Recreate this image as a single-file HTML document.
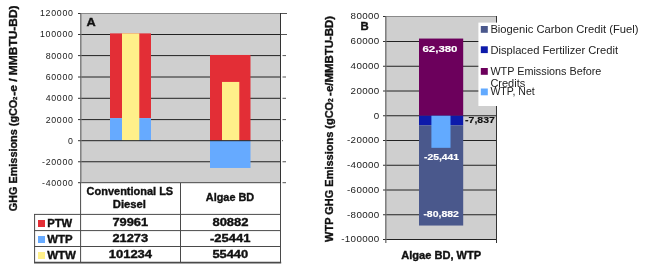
<!DOCTYPE html>
<html><head><meta charset="utf-8">
<style>
html,body{margin:0;padding:0;background:#fff;width:648px;height:273px;overflow:hidden}
svg{display:block;will-change:transform}
text{font-family:"Liberation Sans",sans-serif}
.yl{font-size:8.8px;fill:#1a1a1a;letter-spacing:0.7px}
.yb{font-size:9.8px;fill:#1a1a1a;letter-spacing:0.35px}
.tb{font-size:10px;font-weight:bold;fill:#111;stroke:#111;stroke-width:0.35px}
.lg{font-size:10px;fill:#222}
.dl{font-size:8.6px;font-weight:bold;stroke-width:0.15px}
</style></head><body>
<svg width="648" height="273" viewBox="0 0 648 273">
<rect x="80" y="13.5" width="200" height="169" fill="#cfcfcf"/>
<line x1="80" y1="13.5" x2="280" y2="13.5" stroke="#8a8a8a" stroke-width="1"/>
<g stroke="#222" stroke-width="1">
<line x1="80" y1="34.5" x2="280" y2="34.5"/>
<line x1="80" y1="55.6" x2="280" y2="55.6"/>
<line x1="80" y1="77.0" x2="280" y2="77.0"/>
<line x1="80" y1="98.3" x2="280" y2="98.3"/>
<line x1="80" y1="119.6" x2="280" y2="119.6"/>
<line x1="80" y1="161.75" x2="280" y2="161.75"/>
</g>
<rect x="110" y="33.39" width="41" height="84.76" fill="#e32e36"/>
<rect x="110" y="118.15" width="41" height="22.55" fill="#66aaff"/>
<rect x="122" y="33.39" width="17.3" height="107.31" fill="#fff08a"/>
<rect x="210" y="54.97" width="40.5" height="85.73" fill="#e32e36"/>
<rect x="222" y="81.93" width="17.3" height="58.77" fill="#fff08a"/>
<rect x="210" y="140.7" width="40.5" height="27.27" fill="#66aaff"/>
<line x1="80" y1="140.7" x2="280" y2="140.7" stroke="#222" stroke-width="1"/>
<line x1="80" y1="182.7" x2="280" y2="182.7" stroke="#444" stroke-width="1"/>
<line x1="80.8" y1="13" x2="80.8" y2="183" stroke="#7a7a7a" stroke-width="1.4"/>
<line x1="280.5" y1="13" x2="280.5" y2="183" stroke="#333" stroke-width="1"/>
<g stroke="#333" stroke-width="1">
<line x1="78" y1="13.5" x2="80.5" y2="13.5"/>
<line x1="78" y1="34.5" x2="80.5" y2="34.5"/>
<line x1="78" y1="55.6" x2="80.5" y2="55.6"/>
<line x1="78" y1="77.0" x2="80.5" y2="77.0"/>
<line x1="78" y1="98.3" x2="80.5" y2="98.3"/>
<line x1="78" y1="119.6" x2="80.5" y2="119.6"/>
<line x1="78" y1="140.7" x2="80.5" y2="140.7"/>
<line x1="78" y1="161.75" x2="80.5" y2="161.75"/>
<line x1="78" y1="182.7" x2="80.5" y2="182.7"/>
</g><g stroke="#555" stroke-width="1">
<line x1="281" y1="13.5" x2="287" y2="13.5"/>
<line x1="281" y1="34.5" x2="287" y2="34.5"/>
<line x1="282.5" y1="55.6" x2="286" y2="55.6"/>
<line x1="282.5" y1="77.0" x2="286" y2="77.0"/>
<line x1="282.5" y1="98.3" x2="286" y2="98.3"/>
<line x1="282.5" y1="119.6" x2="286" y2="119.6"/>
<line x1="282" y1="140.7" x2="283" y2="140.7"/>
<line x1="282.5" y1="161.75" x2="286" y2="161.75"/>
<line x1="282.5" y1="182.7" x2="286" y2="182.7"/>
</g>
<g class="yl" text-anchor="end">
<text x="73.6" y="16.4">120000</text>
<text x="73.6" y="37.4">100000</text>
<text x="73.6" y="58.5">80000</text>
<text x="73.6" y="79.9">60000</text>
<text x="73.6" y="101.2">40000</text>
<text x="73.6" y="122.5">20000</text>
<text x="73.6" y="143.6">0</text>
<text x="73.6" y="164.65">-20000</text>
<text x="73.6" y="185.6">-40000</text>
</g>
<text x="86.6" y="26.4" class="tb" textLength="9.2" lengthAdjust="spacingAndGlyphs" style="font-size:11px">A</text>
<g stroke="#4a4a4a" stroke-width="1" fill="none">
<line x1="80.6" y1="183" x2="80.6" y2="263"/>
<line x1="280.5" y1="183" x2="280.5" y2="263"/>
<line x1="180.5" y1="183" x2="180.5" y2="263"/>
<line x1="34" y1="214.4" x2="281" y2="214.4"/>
<line x1="34" y1="230.6" x2="281" y2="230.6"/>
<line x1="34" y1="246.5" x2="281" y2="246.5"/>
<line x1="34.6" y1="214" x2="34.6" y2="263"/>
</g>
<line x1="34" y1="262.7" x2="281.2" y2="262.7" stroke="#4a4a4a" stroke-width="1.7"/>
<rect x="38" y="220" width="7" height="7" fill="#e32e36"/>
<rect x="38" y="236" width="7" height="7" fill="#66aaff"/>
<rect x="38" y="252" width="7" height="7" fill="#fff08a"/>
<text x="47.2" y="226.5" class="tb" textLength="25" lengthAdjust="spacingAndGlyphs">PTW</text>
<text x="47.2" y="243" class="tb" textLength="25.3" lengthAdjust="spacingAndGlyphs">WTP</text>
<text x="47.2" y="259.1" class="tb" textLength="28.8" lengthAdjust="spacingAndGlyphs">WTW</text>
<text x="86.6" y="195" class="tb" textLength="86.6" lengthAdjust="spacingAndGlyphs">Conventional LS</text>
<text x="112.8" y="207.7" class="tb" textLength="33.2" lengthAdjust="spacingAndGlyphs">Diesel</text>
<text x="205.8" y="201.2" class="tb" textLength="48.4" lengthAdjust="spacingAndGlyphs">Algae BD</text>
<text x="112.4" y="225.8" class="tb" textLength="35.8" lengthAdjust="spacingAndGlyphs">79961</text>
<text x="112.4" y="242.1" class="tb" textLength="35.8" lengthAdjust="spacingAndGlyphs">21273</text>
<text x="108.7" y="258.4" class="tb" textLength="43.4" lengthAdjust="spacingAndGlyphs">101234</text>
<text x="212.4" y="225.8" class="tb" textLength="36.2" lengthAdjust="spacingAndGlyphs">80882</text>
<text x="210.0" y="242.1" class="tb" textLength="40.5" lengthAdjust="spacingAndGlyphs">-25441</text>
<text x="212.4" y="258.4" class="tb" textLength="35.8" lengthAdjust="spacingAndGlyphs">55440</text>
<g transform="translate(17.3,0) rotate(-90)" class="tb"><text x="-211.3" y="0" textLength="111.6" lengthAdjust="spacingAndGlyphs" style="font-size:10.5px">GHG Emissions (gCO</text><text x="-100.1" y="0" style="font-size:6px">2</text><text x="-95.8" y="0" textLength="90.4" lengthAdjust="spacingAndGlyphs" style="font-size:10.5px">-e / MMBTU-BD)</text></g>
<rect x="385.5" y="16.5" width="111" height="223" fill="#cfcfcf"/>
<line x1="385.5" y1="16.5" x2="496.5" y2="16.5" stroke="#8a8a8a" stroke-width="1"/>
<g stroke="#222" stroke-width="1">
<line x1="385.5" y1="41.5" x2="496.5" y2="41.5"/>
<line x1="385.5" y1="66.25" x2="496.5" y2="66.25"/>
<line x1="385.5" y1="91.0" x2="496.5" y2="91.0"/>
<line x1="385.5" y1="115.75" x2="496.5" y2="115.75"/>
<line x1="385.5" y1="140.5" x2="496.5" y2="140.5"/>
<line x1="385.5" y1="165.25" x2="496.5" y2="165.25"/>
<line x1="385.5" y1="190.0" x2="496.5" y2="190.0"/>
<line x1="385.5" y1="214.75" x2="496.5" y2="214.75"/>
<line x1="385.5" y1="239.5" x2="496.5" y2="239.5"/>
</g>
<rect x="419" y="38.55" width="44.2" height="77.2" fill="#6c005c"/>
<rect x="419" y="115.75" width="44.2" height="9.7" fill="#0d1aaa"/>
<rect x="419" y="125.45" width="44.2" height="100.09" fill="#4a588c"/>
<rect x="431.4" y="115.75" width="19.1" height="32.08" fill="#62aaff"/>
<line x1="385.8" y1="16" x2="385.8" y2="243" stroke="#777" stroke-width="1.4"/>
<line x1="496.5" y1="16" x2="496.5" y2="243" stroke="#333" stroke-width="1"/>
<g stroke="#333" stroke-width="1">
<line x1="383" y1="16.5" x2="385.5" y2="16.5"/>
<line x1="383" y1="41.5" x2="385.5" y2="41.5"/>
<line x1="383" y1="66.25" x2="385.5" y2="66.25"/>
<line x1="383" y1="91.0" x2="385.5" y2="91.0"/>
<line x1="383" y1="115.75" x2="385.5" y2="115.75"/>
<line x1="383" y1="140.5" x2="385.5" y2="140.5"/>
<line x1="383" y1="165.25" x2="385.5" y2="165.25"/>
<line x1="383" y1="190.0" x2="385.5" y2="190.0"/>
<line x1="383" y1="214.75" x2="385.5" y2="214.75"/>
<line x1="383" y1="239.5" x2="385.5" y2="239.5"/>
</g>
<g class="yb" text-anchor="end">
<text x="379.6" y="19.35">80000</text>
<text x="379.6" y="44.35">60000</text>
<text x="379.6" y="69.1">40000</text>
<text x="379.6" y="93.85">20000</text>
<text x="379.6" y="118.6">0</text>
<text x="379.6" y="143.35">-20000</text>
<text x="379.6" y="168.1">-40000</text>
<text x="379.6" y="192.85">-60000</text>
<text x="379.6" y="217.6">-80000</text>
<text x="379.6" y="242.35">-100000</text>
</g>
<text x="360.6" y="30.1" class="tb" textLength="8.2" lengthAdjust="spacingAndGlyphs">B</text>
<text x="422.5" y="51.9" class="dl" textLength="35" lengthAdjust="spacingAndGlyphs" fill="#fff" stroke="#fff">62,380</text>
<text x="424.0" y="159.9" class="dl" textLength="35" lengthAdjust="spacingAndGlyphs" fill="#fff" stroke="#fff">-25,441</text>
<text x="423.4" y="217" class="dl" textLength="35.5" lengthAdjust="spacingAndGlyphs" fill="#fff" stroke="#fff">-80,882</text>
<text x="465.1" y="123.3" class="dl" textLength="29.8" lengthAdjust="spacingAndGlyphs" fill="#111" stroke="#111">-7,837</text>
<text x="401.2" y="258.8" class="tb" textLength="80" lengthAdjust="spacingAndGlyphs">Algae BD, WTP</text>
<g transform="translate(333.2,0) rotate(-90)" class="tb"><text x="-241.9" y="0" textLength="140" lengthAdjust="spacingAndGlyphs" style="font-size:10.5px">WTP GHG Emissions (gCO</text><text x="-102" y="0" style="font-size:6.5px">2</text><text x="-95.9" y="0" textLength="80" lengthAdjust="spacingAndGlyphs" style="font-size:10.5px">-e/MMBTU-BD)</text></g>
<rect x="478.4" y="22.6" width="170" height="83.4" fill="#fff"/>
<rect x="480.8" y="26" width="7" height="6.8" fill="#4a588c"/>
<rect x="480.8" y="46.3" width="7" height="6.8" fill="#0d1aaa"/>
<rect x="480.8" y="68" width="7" height="6.8" fill="#6c005c"/>
<rect x="480.8" y="88.5" width="7" height="6.8" fill="#62aaff"/>
<text x="490.4" y="33.0" class="lg" textLength="148" lengthAdjust="spacingAndGlyphs">Biogenic Carbon Credit (Fuel)</text>
<text x="490.4" y="53.5" class="lg" textLength="127.6" lengthAdjust="spacingAndGlyphs">Displaced Fertilizer Credit</text>
<text x="490.4" y="74.6" class="lg" textLength="111" lengthAdjust="spacingAndGlyphs">WTP Emissions Before</text>
<text x="490.4" y="86.9" class="lg" textLength="34.8" lengthAdjust="spacingAndGlyphs">Credits</text>
<text x="490.4" y="95.3" class="lg" textLength="44.3" lengthAdjust="spacingAndGlyphs">WTP, Net</text>
</svg>
</body></html>
